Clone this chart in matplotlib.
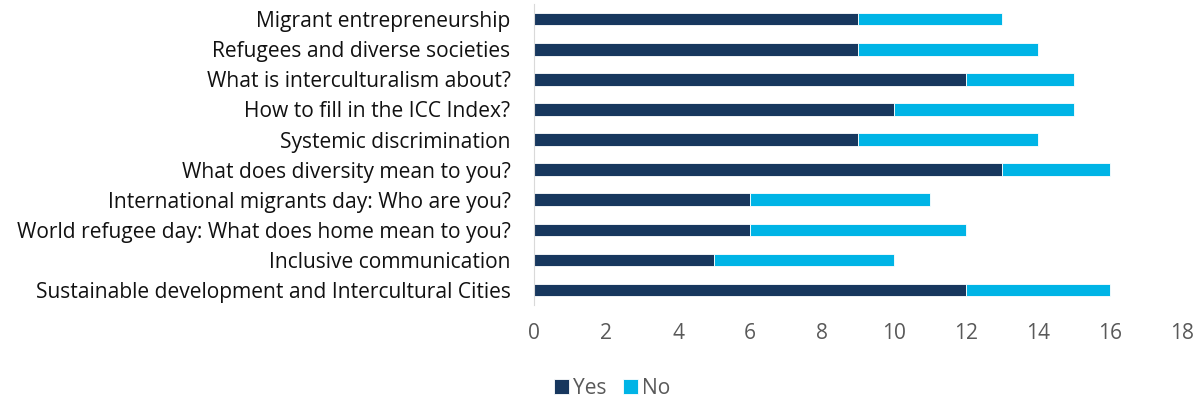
import matplotlib.pyplot as plt
import numpy as np

plt.rcParams['font.family'] = ['Open Sans', 'DejaVu Sans']

topics = [
    "Migrant entrepreneurship",
    "Refugees and diverse societies",
    "What is interculturalism about?",
    "How to fill in the ICC Index?",
    "Systemic discrimination",
    "What does diversity mean to you?",
    "International migrants day: Who are you?",
    "World refugee day: What does home mean to you?",
    "Inclusive communication",
    "Sustainable development and Intercultural Cities",
]
yes = [9, 9, 12, 10, 9, 13, 6, 6, 5, 12]
no = [4, 5, 3, 5, 5, 3, 5, 6, 5, 4]

fig = plt.figure(figsize=(12.03, 4.01), dpi=100)
ax = fig.add_axes([0.444, 0.239, 0.5385, 0.751])

y = np.arange(len(topics))
ax.barh(y, yes, height=0.42, color='#17375E', edgecolor='white', linewidth=0.6, label='Yes')
ax.barh(y, no, left=yes, height=0.42, color='#00B4E6', edgecolor='white', linewidth=0.6, label='No')

ax.set_yticks(y)
ax.set_yticklabels(topics, fontsize=15.1, color='#111111')
ax.set_ylim(len(topics) - 0.5, -0.5)
ax.set_xlim(0, 18)
ax.set_xticks(range(0, 19, 2))
ax.tick_params(axis='x', labelsize=15.1, labelcolor='#595959', length=0, pad=13)
ax.tick_params(axis='y', length=0, pad=17)

for s in ['top', 'right', 'bottom']:
    ax.spines[s].set_visible(False)
ax.spines['left'].set_color('#d9d9d9')

fig.legend(loc='center', bbox_to_anchor=(0.509, 0.032), ncol=2, frameon=False,
           fontsize=15.1, handlelength=0.7, handleheight=0.7, handletextpad=0.2,
           columnspacing=0.8, labelcolor='#595959')

plt.savefig("out.png", dpi=100)
